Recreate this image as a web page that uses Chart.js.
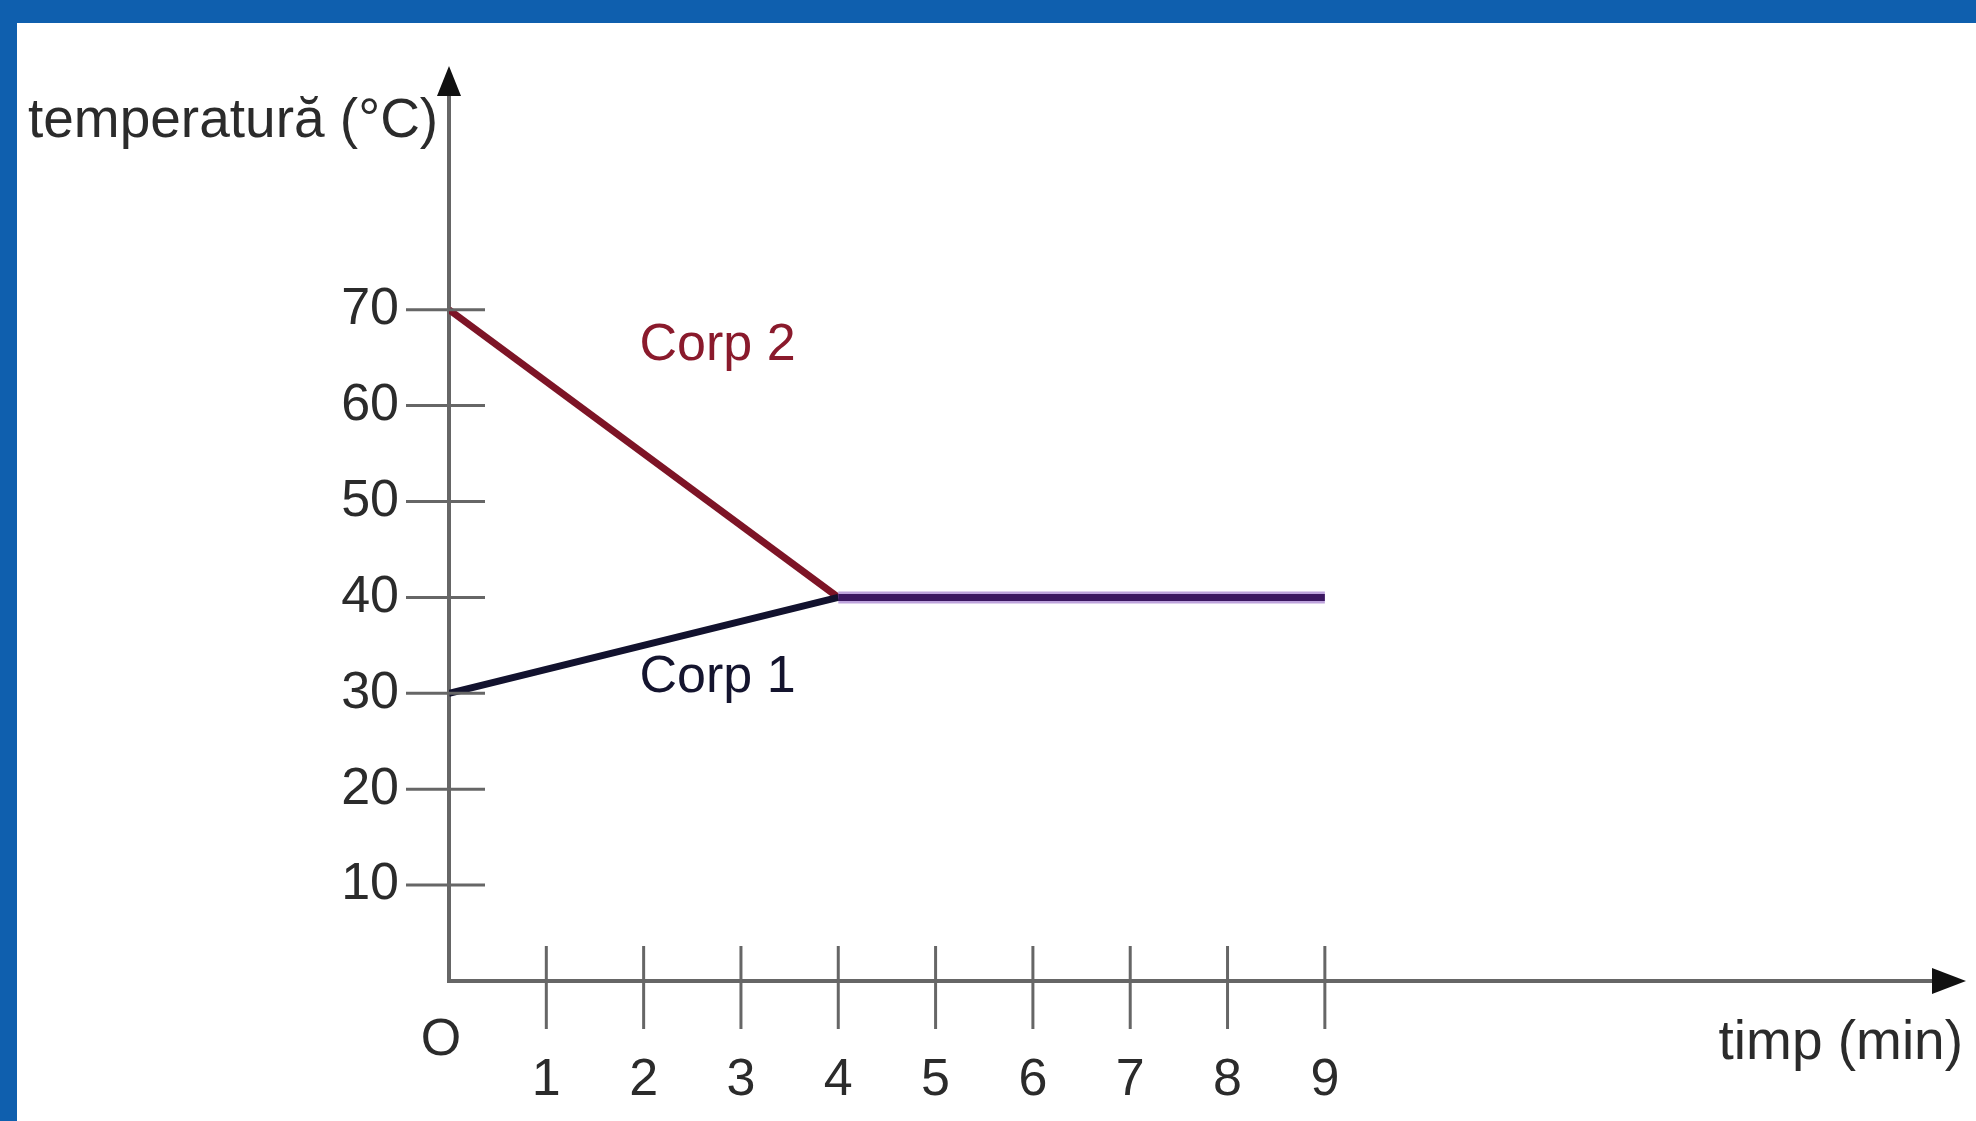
<!DOCTYPE html>
<html>
<head>
<meta charset="utf-8">
<script src="https://cdn.jsdelivr.net/npm/chart.js@4.4.0/dist/chart.umd.min.js"></script>
<style>
	html, body {
		margin: 0;
		padding: 0;
		background: #0f5fae;
		overflow: hidden;
	}
	#frame {
		position: absolute;
		left: 17px;
		top: 23px;
		width: 1959px;
		height: 1098px;
		background: #ffffff;
	}
</style>
</head>
<body>
<div id="frame"><canvas id="tempChart"></canvas></div>
<script>
// time in minutes, temperature in °C
const times = [0, 4, 9];
const corp1 = [30, 40, 40];
const corp2 = [70, 40, 40];

const tempTicks = [10, 20, 30, 40, 50, 60, 70];
const timeTicks = [1, 2, 3, 4, 5, 6, 7, 8, 9];

const yTitle = "temperatură (°C)";
const xTitle = "timp (min)";
const originLabel = "O";

const FONT = "52px 'Liberation Sans', Arial, sans-serif";
const TITLE_FONT = "55px 'Liberation Sans', Arial, sans-serif";
const TEXT = "#2b2b2b";
const AXIS = "#666666";

function toPoints(xs, ys) {
	return xs.map((t, i) => ({ x: t, y: ys[i] }));
}

// axis arrows, crossing tick marks and all the text
const axisDecor = {
	id: "axisDecor",
	afterDraw(chart) {
		const { ctx, chartArea: a, scales } = chart;
		const x = scales.x;
		const y = scales.y;
		ctx.save();

		// arrow heads
		ctx.fillStyle = "#111111";
		ctx.beginPath();
		ctx.moveTo(a.left, a.top - 26);
		ctx.lineTo(a.left - 12, a.top + 4);
		ctx.lineTo(a.left + 12, a.top + 4);
		ctx.closePath();
		ctx.fill();
		ctx.beginPath();
		ctx.moveTo(a.right + 30, a.bottom);
		ctx.lineTo(a.right - 4, a.bottom - 13);
		ctx.lineTo(a.right - 4, a.bottom + 13);
		ctx.closePath();
		ctx.fill();

		// tick marks
		ctx.strokeStyle = AXIS;
		ctx.lineWidth = 3;
		tempTicks.forEach((v) => {
			const py = y.getPixelForValue(v);
			ctx.beginPath();
			ctx.moveTo(a.left - 43, py);
			ctx.lineTo(a.left + 36, py);
			ctx.stroke();
		});
		timeTicks.forEach((t) => {
			const px = x.getPixelForValue(t);
			ctx.beginPath();
			ctx.moveTo(px, a.bottom - 35);
			ctx.lineTo(px, a.bottom + 48);
			ctx.stroke();
		});

		// tick labels
		ctx.font = FONT;
		ctx.fillStyle = TEXT;
		ctx.textBaseline = "middle";
		ctx.textAlign = "right";
		tempTicks.forEach((v) => {
			ctx.fillText(String(v), a.left - 50, y.getPixelForValue(v));
		});
		ctx.textAlign = "center";
		timeTicks.forEach((t) => {
			ctx.fillText(String(t), x.getPixelForValue(t), a.bottom + 100);
		});
		ctx.fillText(originLabel, a.left - 8, a.bottom + 60);

		// axis titles
		ctx.font = TITLE_FONT;
		ctx.textAlign = "left";
		ctx.fillText(yTitle, a.left - 421, a.top + 30);
		ctx.textAlign = "right";
		ctx.fillText(xTitle, a.right + 27, a.bottom + 63);

		// curve names
		ctx.font = FONT;
		ctx.textAlign = "center";
		ctx.fillStyle = "#8a1a2c";
		ctx.fillText("Corp 2", x.getPixelForValue(2.76), y.getPixelForValue(66.2));
		ctx.fillStyle = "#14142e";
		ctx.fillText("Corp 1", x.getPixelForValue(2.76), y.getPixelForValue(31.6));

		ctx.restore();
	},
};

const ctx = document.getElementById("tempChart");

new Chart(ctx, {
	type: "line",
	data: {
		datasets: [
			{
				label: "Corp 1",
				data: toPoints(times, corp1),
				borderColor: "#12122e",
				borderWidth: 7,
				pointRadius: 0,
				tension: 0,
				segment: {
					borderColor: (c) => (c.p0DataIndex >= 1 ? "#3b1760" : undefined),
					borderWidth: (c) => (c.p0DataIndex >= 1 ? 7 : undefined),
				},
			},
			{
				label: "Corp 2",
				data: toPoints(times, corp2),
				borderColor: "#7d1426",
				borderWidth: 7,
				pointRadius: 0,
				tension: 0,
				segment: {
					borderColor: (c) => (c.p0DataIndex >= 1 ? "#bda3dc" : undefined),
					borderWidth: (c) => (c.p0DataIndex >= 1 ? 12 : undefined),
				},
			},
		],
	},
	options: {
		responsive: true,
		maintainAspectRatio: false,
		animation: false,
		layout: {
			padding: { left: 424, top: 69, right: 40, bottom: 132 },
		},
		plugins: {
			legend: { display: false },
			tooltip: { enabled: false },
		},
		scales: {
			x: {
				type: "linear",
				min: 0,
				max: 15.28,
				grid: { display: false },
				ticks: { display: false },
				border: { display: true, color: AXIS, width: 4 },
			},
			y: {
				type: "linear",
				min: 0,
				max: 92.7,
				grid: { display: false },
				ticks: { display: false },
				border: { display: true, color: AXIS, width: 4 },
			},
		},
	},
	plugins: [axisDecor],
});
</script>
</body>
</html>
